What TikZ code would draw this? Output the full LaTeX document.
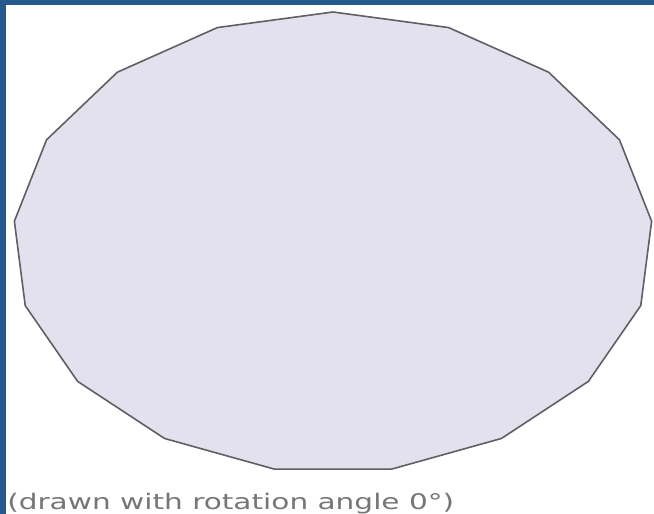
\documentclass[tikz,border=0pt]{standalone}
\usepackage{fontspec}
\setmainfont{DejaVu Sans}
\usetikzlibrary{positioning}
\definecolor{framebar}{RGB}{38,90,143}
\definecolor{shapefill}{RGB}{228,225,238}
\definecolor{shapeline}{RGB}{95,95,100}
\definecolor{captiongray}{RGB}{118,118,118}

\begin{document}
\begin{tikzpicture}[
    x=1pt, y=-1pt,
    polyshape/.style={fill=shapefill, draw=shapeline, line width=1.6pt, line join=round},
    caption/.style={text=captiongray, font=\fontsize{21.5}{25}\selectfont, inner sep=0pt, anchor=base west, xscale=1.375}
]
    \useasboundingbox (0,0) rectangle (654,514);
    \fill[framebar] (0,0) rectangle (654,5);
    \fill[framebar] (0,0) rectangle (6,514);

    % 17-gon, stretched
    \draw[polyshape] (333,12) \foreach \k in {1,...,16} {
        -- ({333+320*cos(90-\k*360/17)}, {242.5-230.5*sin(90-\k*360/17)})
    } -- cycle;

    \node (caption) [caption] at (7,509) {(drawn with rotation angle 0°)};

\end{tikzpicture}
\end{document}
